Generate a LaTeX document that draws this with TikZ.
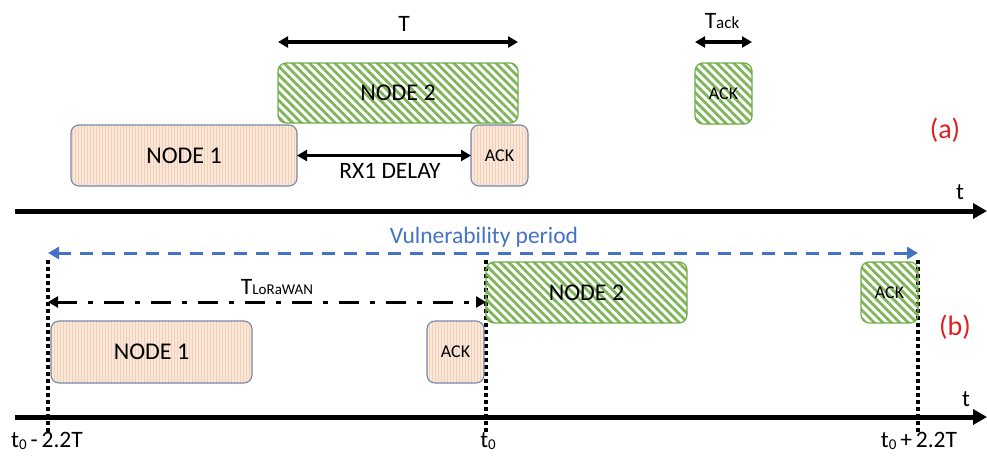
\documentclass[tikz,border=0pt]{standalone}
\usepackage{fontspec}
\setmainfont{Carlito}
\usetikzlibrary{arrows.meta,patterns.meta}
\definecolor{grn}{RGB}{112,173,71}
\definecolor{beige}{RGB}{251,231,216}
\definecolor{stripe}{RGB}{240,208,186}
\definecolor{bord}{RGB}{120,135,165}
\definecolor{vblue}{RGB}{68,114,196}
\definecolor{lred}{RGB}{225,30,30}
\newcommand{\fs}[1]{\fontsize{#1}{#1}\selectfont}
\tikzset{
  gbox/.style={draw=grn, line width=1.2pt, rounded corners=8pt,
    pattern={Lines[angle=-45,distance=6pt,line width=2.8pt]}, pattern color=grn!90,
    inner sep=0pt, outer sep=0pt, font=\fs{24}},
  obox/.style={draw=bord, line width=1.1pt, rounded corners=8pt, preaction={fill=beige},
    pattern={Lines[angle=90,distance=3pt,line width=0.8pt]}, pattern color=stripe,
    inner sep=0pt, outer sep=0pt, font=\fs{24}},
  ackfont/.style={font=\fs{18}},
  dimarrow/.style={line width=3.2pt, {Triangle[length=10pt,width=11pt]}-{Triangle[length=10pt,width=11pt]}},
  axis/.style={line width=5pt, -{Triangle[length=14pt,width=15pt]}},
  vline/.style={line width=3.5pt, dash pattern=on 3.5pt off 3.5pt},
  lbl/.style={inner sep=0pt, font=\fs{23.5}},
  tag/.style={inner sep=0pt, font=\fs{28}, text=lred},
}
\begin{document}
\begin{tikzpicture}[x=1pt,y=-1pt]
\useasboundingbox (0,0) rectangle (987,458);
% ---------- (a) ----------
\node[gbox, minimum width=240pt, minimum height=60pt] (n2a) at (398,93) {NODE 2};
\node[gbox, ackfont, minimum width=57pt, minimum height=61pt] (ackag) at (723.5,93.5) {ACK};
\node[obox, minimum width=226pt, minimum height=61pt] (n1a) at (184,155.5) {NODE 1};
\node[obox, ackfont, minimum width=57pt, minimum height=61pt] (ackao) at (499.5,155.5) {ACK};
\coordinate (ta) at ([yshift=21pt]n2a.north west);
\coordinate (tb) at ([yshift=21pt]n2a.north east);
\draw[dimarrow] (ta) -- (tb);
\node[lbl] (tl) at (404,24) {T};
\coordinate (tka) at ([yshift=21pt]ackag.north west);
\coordinate (tkb) at ([yshift=21pt]ackag.north east);
\draw[dimarrow] (tka) -- (tkb);
\node[lbl] (tackl) at (722,21) {T{\fs{17}ack}};
\draw[dimarrow] (n1a.east) -- (ackao.west);
\node[lbl] (rx) at (390,171) {RX1 DELAY};
\node[tag] (taga) at (945,130) {(a)};
\coordinate (ax0) at (15,211);
\coordinate (ax1) at (987,211);
\draw[axis] (ax0) -- (ax1);
\node[lbl] (tta) at (960,192) {t};
% ---------- (b) ----------
\node[lbl, text=vblue] (vp) at (484,237) {Vulnerability period};
\coordinate (v0) at (48,253);
\coordinate (v1) at (918,253);
\draw[line width=3pt, vblue, dash pattern=on 13pt off 9pt,
  {Triangle[length=11pt,width=12pt]}-{Triangle[length=11pt,width=12pt]}] (v0) -- (v1);
\coordinate (d0t) at (48,260);  \coordinate (d0b) at (48,432);
\coordinate (d1t) at (486,260); \coordinate (d1b) at (486,432);
\coordinate (d2t) at (918,260); \coordinate (d2b) at (918,432);
\draw[vline] (d0t) -- (d0b);
\draw[vline] (d1t) -- (d1b);
\draw[vline] (d2t) -- (d2b);
\node[gbox, minimum width=201pt, minimum height=61pt] (n2b) at (586.5,292.5) {NODE 2};
\node[gbox, ackfont, minimum width=57pt, minimum height=61pt] (ackbg) at (889.5,292.5) {ACK};
\node[obox, minimum width=201pt, minimum height=62pt] (n1b) at (151.5,352) {NODE 1};
\node[obox, ackfont, minimum width=57pt, minimum height=62pt] (ackbo) at (455.5,352) {ACK};
\coordinate (l0) at (48,302);
\coordinate (l1) at (486,302);
\draw[line width=3pt, dash pattern=on 20pt off 11pt on 5pt off 11pt,
  {Triangle[length=10pt,width=11pt]}-{Triangle[length=10pt,width=11pt]}] (l0) -- (l1);
\node[lbl] (lora) at (277,287) {T{\fs{15}LoRaWAN}};
\node[tag] (tagb) at (955,327) {(b)};
\coordinate (bx0) at (15,417);
\coordinate (bx1) at (987,417);
\draw[axis] (bx0) -- (bx1);
\node[lbl] (ttb) at (966,399) {t};
\node[lbl] (tm) at (47,441) {t\raisebox{-2pt}{\fs{15}0}\,-\,2.2T};
\node[lbl] (t0) at (488,441) {t\raisebox{-2pt}{\fs{15}0}};
\node[lbl] (tp) at (919,441) {t\raisebox{-2pt}{\fs{15}0}\,+\,2.2T};
\end{tikzpicture}
\end{document}
